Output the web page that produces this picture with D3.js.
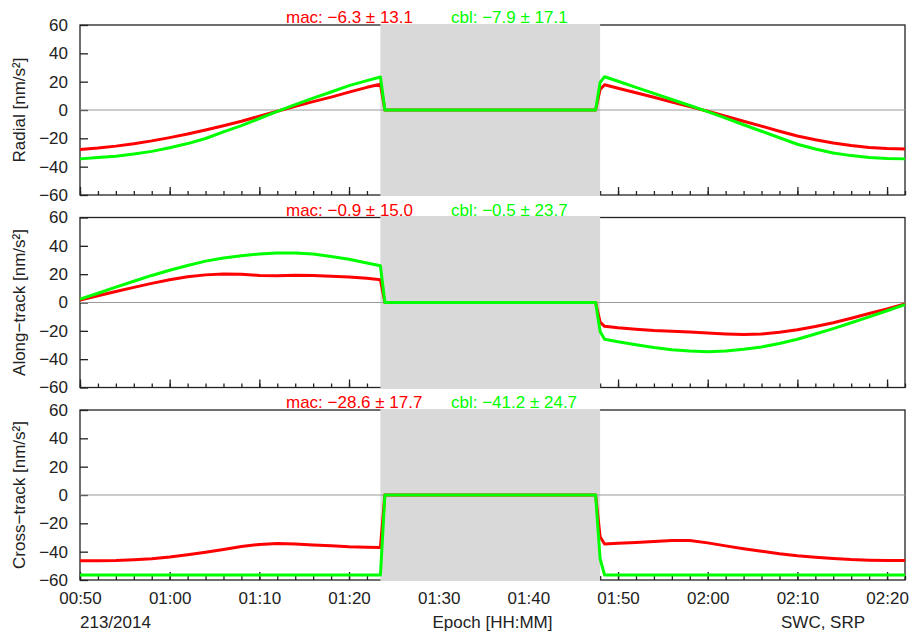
<!DOCTYPE html>
<html>
<head>
<meta charset="utf-8">
<script src="https://cdn.jsdelivr.net/npm/d3@7"></script>
<style>
  body { margin: 0; background: #fff; }
  svg { display: block; font-family: "Liberation Sans", Arial, Helvetica, sans-serif; }
</style>
</head>
<body>
<svg id="chart" width="911" height="635"></svg>
<script>
// Epochs (UTC, day 213/2014), 2-minute steps with finer samples around the eclipse edges
const times = [
  "00:50:00","00:52:00","00:54:00","00:56:00","00:58:00","01:00:00","01:02:00","01:04:00","01:06:00",
  "01:08:00","01:10:00","01:12:00","01:14:00","01:16:00","01:18:00","01:20:00","01:22:00",
  "01:23:30","01:24:00","01:47:30","01:48:00","01:48:30",
  "01:50:00","01:52:00","01:54:00","01:56:00","01:58:00","02:00:00","02:02:00","02:04:00","02:06:00",
  "02:08:00","02:10:00","02:12:00","02:14:00","02:16:00","02:18:00","02:20:00","02:22:00"
];

// Radial component [nm/s²]
const radialMac = [
  -27.8,-26.9,-25.5,-23.8,-21.8,-19.5,-17.0,-14.1,-11.1,-7.9,-4.4,-0.9,2.6,5.9,9.1,12.6,16.0,
  18.2,0,0,14.5,17.8,
  15.4,12.2,9.0,5.7,2.4,-0.9,-4.4,-7.9,-11.4,-15.0,-18.4,-21.0,-23.3,-25.1,-26.4,-27.2,-27.5
];
const radialCbl = [
  -34.5,-33.6,-32.6,-31.1,-29.2,-26.7,-23.7,-20.1,-15.4,-11.0,-6.0,-1.0,3.8,8.4,12.7,17.2,20.7,
  23.3,0,0,19.5,23.5,
  20.3,16.0,11.7,7.4,3.2,-1.1,-5.8,-10.4,-15.0,-19.6,-24.2,-27.5,-30.3,-32.2,-33.5,-34.2,-34.5
];

// Along-track component [nm/s²]
const alongMac = [
  1.7,4.8,7.8,10.7,13.5,16.0,18.2,19.5,20.1,19.9,19.1,18.8,19.2,19.0,18.6,18.0,17.1,
  16.0,0,0,-13.8,-16.8,
  -17.8,-18.8,-19.7,-20.3,-20.8,-21.6,-22.2,-22.6,-22.3,-21.0,-19.3,-17.0,-14.3,-11.1,-7.8,-4.5,-1.0
];
const alongCbl = [
  2.4,6.5,10.8,15.0,19.1,22.8,26.1,29.2,31.4,33.0,34.2,35.0,35.0,34.2,32.5,30.5,27.9,
  25.9,0,0,-20.5,-25.9,
  -27.7,-29.8,-31.8,-33.3,-34.3,-34.7,-34.2,-33.0,-31.4,-28.9,-25.9,-22.2,-18.4,-14.3,-10.1,-5.8,-1.5
];

// Cross-track component [nm/s²]
const crossMac = [
  -46.4,-46.4,-46.3,-45.7,-45.0,-43.8,-42.2,-40.4,-38.4,-36.4,-34.9,-34.3,-34.6,-35.3,-35.9,-36.5,-36.8,
  -37.0,0,0,-29.5,-34.6,
  -34.1,-33.5,-32.8,-32.1,-32.1,-33.8,-35.9,-37.9,-39.7,-41.5,-42.9,-44.0,-44.9,-45.6,-46.0,-46.2,-46.2
];
const crossCbl = [
  -56.5,-56.5,-56.5,-56.5,-56.5,-56.5,-56.5,-56.5,-56.5,-56.5,-56.5,-56.5,-56.5,-56.5,-56.5,-56.5,-56.5,
  -56.5,0,0,-45.0,-56.5,
  -56.5,-56.5,-56.5,-56.5,-56.5,-56.5,-56.5,-56.5,-56.5,-56.5,-56.5,-56.5,-56.5,-56.5,-56.5,-56.5,-56.5
];

const axisLabels = ["Radial [nm/s²]", "Along\u2212track [nm/s²]", "Cross\u2212track [nm/s²]"];
const macStats = ["mac: \u22126.3 \u00b1 13.1", "mac: \u22120.9 \u00b1 15.0", "mac: \u221228.6 \u00b1 17.7"];
const cblStats = ["cbl: \u22127.9 \u00b1 17.1", "cbl: \u22120.5 \u00b1 23.7", "cbl: \u221241.2 \u00b1 24.7"];
const yTicks = [-60, -40, -20, 0, 20, 40, 60];
const eclipse = ["01:23:30", "01:48:00"];
const timeDomain = ["00:50:00", "02:22:00"];

const macSeries = [radialMac, alongMac, crossMac];
const cblSeries = [radialCbl, alongCbl, crossCbl];

const parseTime = s => d3.utcParse("%Y-%m-%d %H:%M:%S")("2014-08-01 " + s);
const dates = times.map(parseTime);

const svg = d3.select("#chart");
const left = 80, right = 905, plotH = 170;
const tops = [25, 217.5, 410];
const FONT = 17;
const TEXT = "#222";

const x = d3.scaleUtc().domain(timeDomain.map(parseTime)).range([left, right]);
const x0 = x(parseTime(eclipse[0])), x1 = x(parseTime(eclipse[1]));

tops.forEach((top, i) => {
  const bottom = top + plotH;
  const y = d3.scaleLinear().domain([-60, 60]).range([bottom, top]);
  const g = svg.append("g");

  // frame
  g.append("rect")
    .attr("x", left).attr("y", top)
    .attr("width", right - left).attr("height", plotH)
    .attr("fill", "none").attr("stroke", "#222").attr("stroke-width", 1.3);

  // left axis: inward ticks + labels
  const yAxis = g.append("g").attr("transform", `translate(${left},0)`)
    .call(d3.axisLeft(y).tickValues(yTicks).tickSize(-8).tickPadding(12));
  yAxis.select(".domain").remove();
  yAxis.selectAll("line").attr("stroke", "#222").attr("stroke-width", 1.3);
  yAxis.selectAll("text").attr("font-size", FONT).attr("fill", TEXT)
    .attr("font-family", "Liberation Sans, Arial, sans-serif");

  // bottom axis: minor (2 min) and major (10 min) inward ticks
  const minor = g.append("g").attr("transform", `translate(0,${bottom})`)
    .call(d3.axisBottom(x).ticks(d3.utcMinute.every(2)).tickSize(-4).tickFormat(""));
  minor.select(".domain").remove();
  minor.selectAll("line").attr("stroke", "#222").attr("stroke-width", 1.3);

  const major = g.append("g").attr("transform", `translate(0,${bottom})`)
    .call(d3.axisBottom(x).ticks(d3.utcMinute.every(10)).tickSize(-8).tickPadding(12)
      .tickFormat(i === 2 ? d3.utcFormat("%H:%M") : ""));
  major.select(".domain").remove();
  major.selectAll("line").attr("stroke", "#222").attr("stroke-width", 1.3);
  major.selectAll("text").attr("font-size", FONT).attr("fill", TEXT)
    .attr("font-family", "Liberation Sans, Arial, sans-serif");

  // eclipse shading
  g.append("rect")
    .attr("x", x0).attr("y", top - 1)
    .attr("width", x1 - x0).attr("height", plotH + 2)
    .attr("fill", "#d9d9d9");

  // zero line
  g.append("line")
    .attr("x1", left).attr("x2", right)
    .attr("y1", y(0)).attr("y2", y(0))
    .attr("stroke", "#999").attr("stroke-width", 1);

  const line = d3.line().x((d, k) => x(dates[k])).y(d => y(d));

  g.append("path").datum(macSeries[i])
    .attr("d", line).attr("fill", "none")
    .attr("stroke", "#ff0000").attr("stroke-width", 3).attr("stroke-linejoin", "round");
  g.append("path").datum(cblSeries[i])
    .attr("d", line).attr("fill", "none")
    .attr("stroke", "#00ff00").attr("stroke-width", 3).attr("stroke-linejoin", "round");

  // statistics header
  g.append("text").attr("x", 286).attr("y", top - 2)
    .attr("font-size", FONT).attr("fill", "#ff0000").text(macStats[i]);
  g.append("text").attr("x", 451).attr("y", top - 2)
    .attr("font-size", FONT).attr("fill", "#00ff00").text(cblStats[i]);

  // y-axis title
  g.append("text")
    .attr("transform", `translate(25,${top + plotH / 2}) rotate(-90)`)
    .attr("text-anchor", "middle")
    .attr("font-size", FONT).attr("fill", TEXT)
    .text(axisLabels[i]);
});

// footer annotations
svg.append("text").attr("x", left).attr("y", 628)
  .attr("font-size", FONT).attr("fill", TEXT).text("213/2014");
svg.append("text").attr("x", (left + right) / 2).attr("y", 628)
  .attr("text-anchor", "middle")
  .attr("font-size", FONT).attr("fill", TEXT).text("Epoch [HH:MM]");
svg.append("text").attr("x", 781).attr("y", 628)
  .attr("font-size", FONT).attr("fill", TEXT).text("SWC, SRP");
</script>
</body>
</html>
